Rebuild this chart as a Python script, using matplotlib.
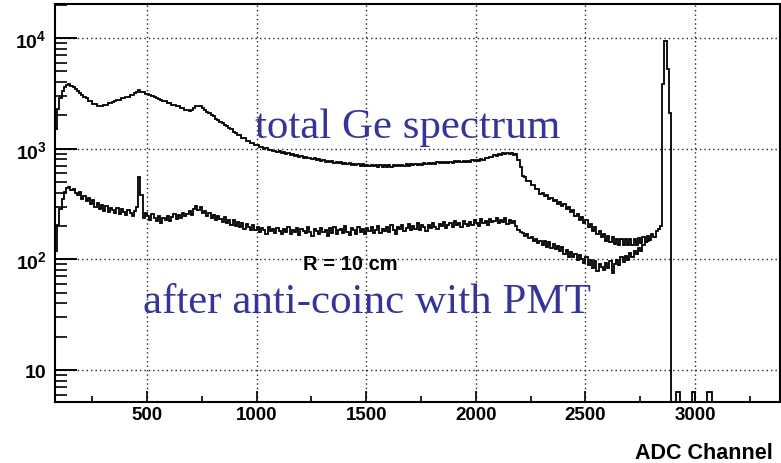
import numpy as np
import matplotlib
matplotlib.use('Agg')
import matplotlib.pyplot as plt
from matplotlib.ticker import MultipleLocator, LogLocator, FixedLocator, NullFormatter

plt.rcParams['mathtext.fontset'] = 'custom'
plt.rcParams['mathtext.bf'] = 'Liberation Sans:bold'
plt.rcParams['mathtext.rm'] = 'Liberation Sans'
plt.rcParams['font.family'] = ['Liberation Sans', 'DejaVu Sans']

# ---- data ----
bin_start = 80
bin_width = 10

# total Ge spectrum, bins of 10 channels starting at 80
total_counts = [
    1500, 2300, 2900, 3300, 3620, 3760, 3840, 3700, 3620, 3460,
    3340, 3180, 3080, 2920, 2850, 2720, 2670, 2540, 2520, 2430,
    2440, 2420, 2500, 2490, 2580, 2590, 2660, 2680, 2760, 2770,
    2850, 2860, 2930, 2940, 3030, 3040, 3170, 3230, 3400, 3280,
    3240, 3140, 3120, 3030, 3010, 2910, 2900, 2800, 2780, 2680,
    2680, 2600, 2580, 2500, 2500, 2420, 2420, 2330, 2320, 2250,
    2240, 2180, 2240, 2310, 2440, 2440, 2410, 2310, 2260, 2160,
    2100, 2010, 1960, 1870, 1830, 1750, 1710, 1630, 1600, 1530,
    1500, 1430, 1400, 1340, 1320, 1260, 1240, 1180, 1170, 1120,
    1120, 1075, 1075, 1030, 1035, 1000, 1005, 970, 980, 948,
    962, 934, 945, 916, 928, 896, 908, 878, 890, 862,
    876, 848, 862, 832, 846, 816, 830, 802, 816, 788,
    804, 776, 792, 764, 780, 754, 770, 744, 760, 736,
    752, 728, 744, 722, 738, 714, 732, 710, 726, 704,
    722, 700, 718, 696, 714, 693, 712, 690, 709, 688,
    708, 688, 708, 689, 710, 691, 712, 694, 716, 698,
    720, 702, 724, 706, 728, 710, 732, 714, 737, 720,
    742, 725, 748, 730, 752, 735, 758, 740, 762, 744,
    766, 748, 770, 752, 774, 756, 778, 760, 782, 764,
    786, 768, 792, 778, 806, 794, 824, 816, 850, 842,
    874, 866, 896, 884, 908, 890, 912, 890, 908, 886,
    890, 790, 690, 570, 550, 510, 510, 470, 470, 430,
    430, 392, 400, 370, 380, 350, 362, 334, 346, 318,
    332, 302, 316, 284, 298, 266, 278, 246, 258, 228,
    242, 212, 226, 196, 210, 180, 196, 170, 182, 158,
    170, 148, 162, 142, 158, 138, 154, 136, 152, 134,
    152, 134, 154, 136, 154, 136, 156, 140, 160, 144,
    164, 150, 170, 160, 182, 190,
]

# photopeak and the region beyond it (irregular bins)
peak_edges = [2840, 2848, 2857, 2871, 2882, 2892, 2915, 2930, 2985, 2998, 3057, 3080, 3390]
peak_counts = [200, 3840, 9400, 5250, 2100, 1, 6.3, 1, 6.3, 1, 6.3, 1]

# after anti-coincidence with PMT, bins of 10 channels starting at 80
anti_counts = [
    120, 205, 285, 350, 405, 445, 455, 420, 432, 398,
    385, 402, 350, 372, 338, 355, 318, 342, 296, 322,
    288, 310, 276, 302, 268, 294, 280, 262, 290, 256,
    284, 266, 250, 278, 262, 248, 276, 300, 560, 380,
    236, 262, 244, 228, 258, 236, 220, 246, 214, 238,
    226, 248, 222, 240, 256, 232, 252, 238, 264, 246,
    258, 272, 252, 288, 306, 280, 296, 262, 276, 248,
    262, 238, 252, 226, 244, 230, 218, 240, 212, 228,
    206, 226, 200, 218, 196, 212, 188, 208, 198, 184,
    204, 186, 198, 178, 194, 184, 170, 196, 180, 188,
    172, 194, 182, 168, 190, 176, 198, 170, 186, 178,
    194, 166, 188, 180, 172, 196, 176, 162, 190, 182,
    170, 194, 178, 186, 164, 192, 174, 198, 168, 184,
    190, 172, 200, 178, 166, 194, 184, 170, 198, 176,
    188, 168, 192, 180, 198, 174, 186, 200, 172, 190,
    182, 196, 176, 204, 186, 170, 198, 188, 206, 180,
    194, 208, 184, 200, 190, 212, 186, 204, 196, 180,
    206, 192, 214, 198, 188, 210, 200, 218, 194, 206,
    212, 198, 220, 204, 214, 196, 224, 208, 200, 218,
    206, 226, 212, 200, 230, 214, 222, 204, 232, 216,
    224, 238, 212, 228, 218, 236, 210, 226, 214, 222,
    200, 186, 178, 172, 164, 168, 156, 160, 148, 152,
    140, 146, 134, 148, 130, 142, 126, 138, 124, 132,
    118, 128, 112, 122, 106, 116, 104, 112, 98, 110,
    100, 92, 104, 88, 98, 84, 96, 78, 90, 86,
    80, 92, 84, 96, 76, 90, 98, 88, 104, 94,
    108, 98, 114, 104, 120, 112, 126, 118, 134, 142,
    146, 150,
]

x_ticks = [500, 1000, 1500, 2000, 2500, 3000]
x_ticklabels = ['500', '1000', '1500', '2000', '2500', '3000']
y_ticks = [10, 100, 1000, 10000]
y_ticklabels = ['10', r'$\mathbf{10^{2}}$', r'$\mathbf{10^{3}}$', r'$\mathbf{10^{4}}$']

# ---- figure ----
W, H = 781, 464
fig = plt.figure(figsize=(W / 100, H / 100), dpi=100)
ax = fig.add_axes([55 / W, 1 - 403 / H, 725 / W, 398 / H])

total_edges = np.concatenate([
    bin_start + bin_width * np.arange(len(total_counts) + 1),
    np.array(peak_edges[1:], dtype=float),
])
total_vals = np.array(list(total_counts) + list(peak_counts), dtype=float)
anti_edges = bin_start + bin_width * np.arange(len(anti_counts) + 1)

ax.stairs(total_vals, total_edges, baseline=None, color='black', lw=1.3, zorder=3)
ax.stairs(np.array(anti_counts, float), anti_edges, baseline=None, color='black', lw=1.3, zorder=3)

ax.set_yscale('log')
ax.set_xlim(80, 3388)
ax.set_ylim(5.14, 20300)

ax.xaxis.set_major_locator(FixedLocator(x_ticks))
ax.set_xticklabels(x_ticklabels, fontweight='bold', fontsize=13.5)
ax.xaxis.set_minor_locator(MultipleLocator(250))
ax.set_yticks(y_ticks)
ax.set_yticklabels(y_ticklabels, fontweight='bold', fontsize=14)
ax.yaxis.set_minor_locator(LogLocator(base=10, subs=range(2, 10), numticks=20))
ax.yaxis.set_minor_formatter(NullFormatter())

ax.tick_params(axis='x', which='major', direction='in', length=8, width=1.2, pad=3, top=False)
ax.tick_params(axis='x', which='minor', direction='in', length=4.5, width=1.2, top=False)
ax.tick_params(axis='y', which='major', direction='in', length=16, width=1.4, pad=6, right=False)
ax.tick_params(axis='y', which='minor', direction='in', length=8.5, width=1.2, right=False)

ax.grid(True, which='major', linestyle=(0, (1, 2.2)), color='#222222', lw=1.0)
for s in ax.spines.values():
    s.set_linewidth(1.5)

blue = '#34349a'
fig.text(255 / W, 1 - 138 / H, 'total Ge spectrum', color=blue, fontsize=31,
         family=['Liberation Serif', 'DejaVu Serif'], va='baseline', ha='left')
fig.text(143 / W, 1 - 313 / H, 'after anti-coinc with PMT', color=blue, fontsize=31,
         family=['Liberation Serif', 'DejaVu Serif'], va='baseline', ha='left')
fig.text(303 / W, 1 - 270 / H, 'R = 10 cm', color='black', fontsize=14.5,
         fontweight='bold', va='baseline', ha='left')
fig.text(773 / W, 1 - 459 / H, 'ADC Channel', color='black', fontsize=15.5,
         fontweight='bold', va='baseline', ha='right')

fig.savefig('out.png', dpi=100)
